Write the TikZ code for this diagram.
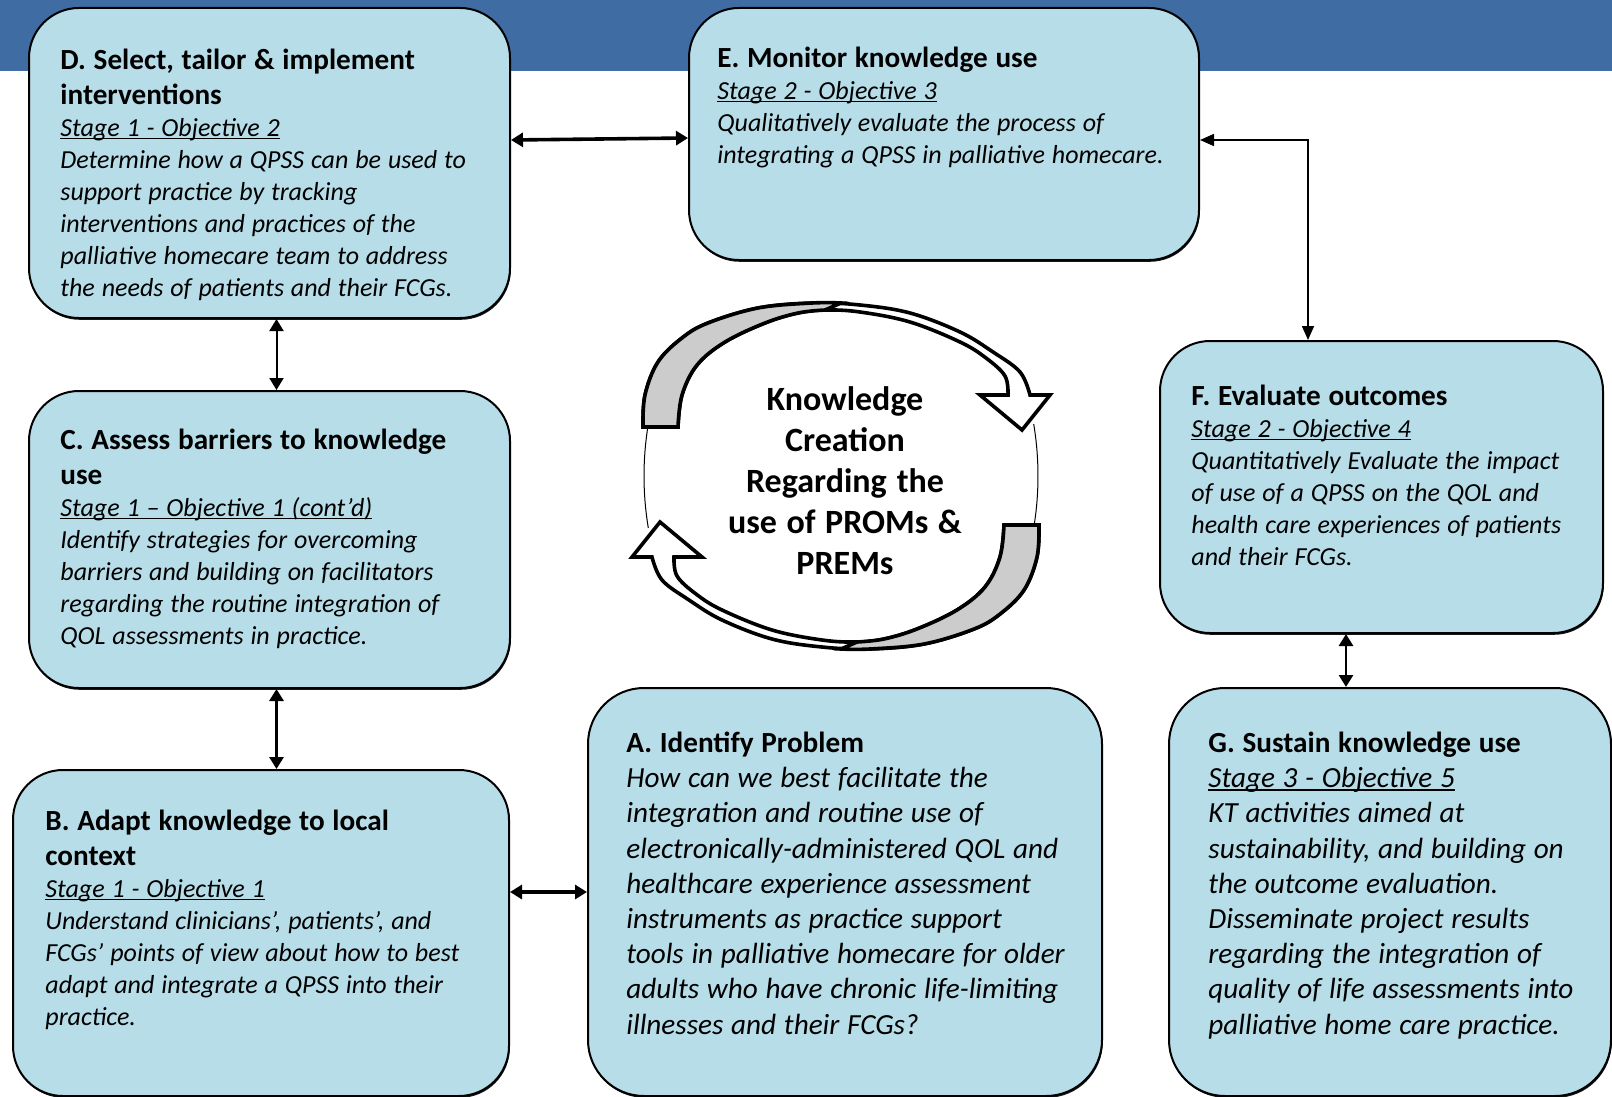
\documentclass[tikz,border=0pt]{standalone}
\usepackage{fontspec}
\setmainfont{Carlito}
\usetikzlibrary{arrows.meta,shadows}
\definecolor{boxblue}{HTML}{B7DDE8}
\definecolor{bandblue}{HTML}{3E6CA3}
\newcommand\tightsp{\spaceskip=0.265em plus 0.05em minus 0.02em\xspaceskip=0.3em\relax}
\tikzset{
  stagebox/.style={draw=black, line width=1pt, fill=boxblue, rounded corners=25pt,
    anchor=north west, inner sep=0pt,
    drop shadow={shadow xshift=0.4pt, shadow yshift=-0.9pt, fill=black, opacity=0.9}},
  boxtext/.style={anchor=north west, inner sep=0pt, align=left, text width=#1,
    font=\fontsize{13}{16}\selectfont\itshape},
  bigtext/.style={boxtext=#1, font=\fontsize{14.6}{17.6}\selectfont\itshape},
  link/.style={{Triangle[length=6pt,width=7pt]}-{Triangle[length=6pt,width=7pt]}, line width=1.5pt},
  thinlink/.style={{Triangle[length=7pt,width=6pt]}-{Triangle[length=7pt,width=6pt]}, line width=0.8pt},
  swoosh/.style={draw=black, line width=1.8pt},
  ring/.style={draw=black, line width=0.5pt}
}
\newcommand\boxtitle[1]{\tightsp{\fontsize{14.6}{17.5}\selectfont\upshape\bfseries
  \tightsp\rule{0pt}{11pt}#1\par}}
\newcommand\stageline[1]{{\setbox0\hbox{#1}\leavevmode\rlap{\rule[-1.5pt]{\wd0}{0.7pt}}\box0\par}}
% one half of the cycle, centred on the origin
\newcommand\kcarrow{%
  \draw[swoosh, fill=white]
    plot[smooth, tension=0.6] coordinates {(-198,-49) (-196,-81) (-183,-114) (-159,-138) (-133,-153)
      (-83,-168) (-29,-173) (19,-171) (69,-163) (119,-144) (152,-124) (179,-104) (189,-81)}
    -- (209,-81) -- (181,-46) -- (139,-81) -- (167,-81)
    -- plot[smooth, tension=0.6] coordinates {(167,-81) (164,-100) (145,-118) (119,-134) (69,-154)
      (19,-164) (-16,-166) (-43,-163) (-76,-153) (-116,-134) (-144,-111) (-159,-81) (-163,-49)}
    -- cycle;
  \draw[swoosh, fill=gray!40]
    plot[smooth, tension=0.6] coordinates {(-198,-49) (-196,-81) (-183,-114) (-159,-138) (-133,-153)
      (-83,-168) (-29,-173) (0,-173)}
    -- plot[smooth, tension=0.6] coordinates {(-16,-166) (-43,-163) (-76,-153) (-116,-134)
      (-144,-111) (-159,-81) (-163,-49)}
    -- cycle;
}
\begin{document}
\begin{tikzpicture}[x=0.5pt,y=-0.5pt]
  \useasboundingbox (0,0) rectangle (1612,1097);
  \fill[bandblue] (0,0) rectangle (1612,71);

  % stage boxes
  \node[stagebox, minimum width=240.5pt, minimum height=155pt] (D) at (28,7) {};
  \node[stagebox, minimum width=255pt, minimum height=126pt] (E) at (688,7) {};
  \node[stagebox, minimum width=240.5pt, minimum height=148.5pt] (C) at (28,390) {};
  \node[stagebox, minimum width=248pt, minimum height=163pt] (B) at (12,769) {};
  \node[stagebox, minimum width=257pt, minimum height=204pt, rounded corners=28pt] (A) at (587,687) {};
  \node[stagebox, minimum width=221.5pt, minimum height=146pt] (F) at (1159,340) {};
  \node[stagebox, minimum width=221pt, minimum height=204pt, rounded corners=28pt] (G) at (1168,687) {};

  % connectors
  \draw[link, line width=1.8pt] ([yshift=11.5pt]D.east) -- ([yshift=-2pt]E.west);
  \draw[link, line width=1pt] ([xshift=3.5pt]D.south) -- ([xshift=3.5pt]C.north);
  \draw[link, line width=1.6pt] ([xshift=3.5pt]C.south) -- ([xshift=3.5pt]C.south |- B.north);
  \draw[link, line width=1.8pt] (A.west -| B.east) -- (A.west);
  \draw[thinlink] ([yshift=-3pt]E.east) -| ([xshift=-36.75pt]F.north);
  \draw[link, line width=1.4pt] ([xshift=-17.75pt]F.south) -- ([xshift=-17.75pt]F.south |- G.north);

  % box texts
  \node[boxtext=225pt] (Dt) at (60,47) {\boxtitle{D. Select, tailor \& implement\\ interventions}%
    \stageline{Stage 1 - Objective 2}%
    Determine how a QPSS can be used to\\ support practice by tracking\\
    interventions and practices of the\\ palliative homecare team to address\\
    the needs of patients and their FCGs.};
  \node[boxtext=240pt] (Et) at (717,45) {\boxtitle{E. Monitor knowledge use}%
    \stageline{Stage 2 - Objective 3}%
    Qualitatively evaluate the process of\\ integrating a QPSS in palliative homecare.};
  \node[boxtext=225pt] (Ct) at (60,427) {\boxtitle{C. Assess barriers to knowledge\\ use}%
    \stageline{Stage 1 – Objective 1 (cont’d)}%
    Identify strategies for overcoming\\ barriers and building on facilitators\\
    regarding the routine integration of\\ QOL assessments in practice.};
  \node[boxtext=235pt] (Bt) at (45,808) {\boxtitle{B. Adapt knowledge to local\\ context}%
    \stageline{Stage 1 - Objective 1}%
    Understand clinicians’, patients’, and\\ FCGs’ points of view about how to best\\
    adapt and integrate a QPSS into their\\ practice.};
  \node[bigtext=240pt] (At) at (626,730) {\boxtitle{A. Identify Problem}%
    How can we best facilitate the\\ integration and routine use of\\
    electronically-administered QOL and\\ healthcare experience assessment\\
    instruments as practice support\\ tools in palliative homecare for older\\
    adults who have chronic life-limiting\\ illnesses and their FCGs?};
  \node[boxtext=215pt] (Ft) at (1191,383) {\boxtitle{F. Evaluate outcomes}%
    \stageline{Stage 2 - Objective 4}%
    Quantitatively Evaluate the impact\\ of use of a QPSS on the QOL and\\
    health care experiences of patients\\ and their FCGs.};
  \node[bigtext=210pt] (Gt) at (1208,730) {\boxtitle{G. Sustain knowledge use}%
    \stageline{Stage 3 - Objective 5}%
    KT activities aimed at\\ sustainability, and building on\\
    the outcome evaluation.\\ Disseminate project results\\
    regarding the integration of\\ quality of life assessments into\\
    palliative home care practice.};

  % knowledge creation cycle
  \begin{scope}[shift={(841,476)}]
    \draw[ring] plot[domain=-12:12, samples=20] ({-197*cos(\x)}, {250*sin(\x)});
    \draw[ring] plot[domain=-12:12, samples=20] ({197*cos(\x)}, {250*sin(\x)});
    \kcarrow
  \end{scope}
  \begin{scope}[shift={(841,476)}, rotate=180]
    \kcarrow
  \end{scope}
  \node[text width=140pt, align=center, inner sep=0pt,
    font=\fontsize{17}{20.5}\selectfont\bfseries] (kc) at (845,481)
    {\tightsp Knowledge\\ Creation\\ Regarding the\\ use of PROMs \&\\ PREMs};
\end{tikzpicture}
\end{document}
